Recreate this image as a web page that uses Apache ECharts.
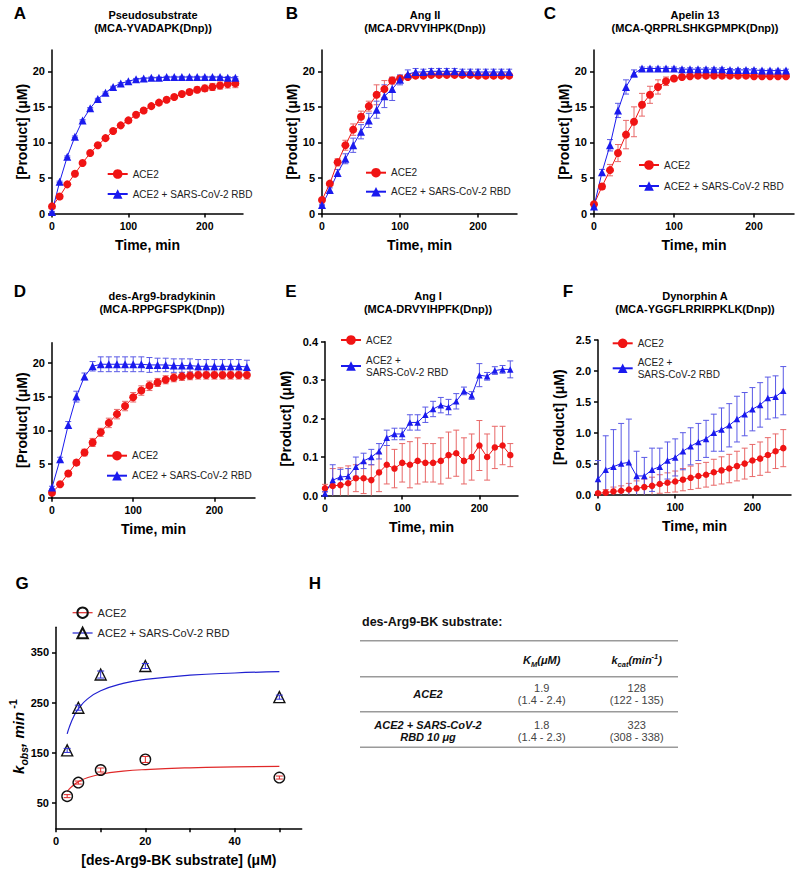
<!DOCTYPE html>
<html><head><meta charset="utf-8">
<script src="https://cdn.jsdelivr.net/npm/echarts@6/dist/echarts.min.js"></script>
<style>html,body{margin:0;padding:0;background:#fff}#c{width:800px;height:873px}</style>
</head><body><div id="c"></div>
<script>
// ---------------- DATA ----------------
const time = [0,10,20,30,40,50,60,70,80,90,100,110,120,130,140,150,160,170,180,190,200,210,220,230,240];
const timeTicks = [0,100,200];
const productTicks = [0,5,10,15,20];
const angITicks = [0,0.1,0.2,0.3,0.4];
const dynTicks = [0,0.5,1.0,1.5,2.0,2.5];

// A: Pseudosubstrate
const aRed    = [1.0,2.4,4.1,5.6,7.1,8.5,9.6,10.6,11.6,12.4,13.1,13.9,14.5,15.1,15.6,16.0,16.4,16.8,17.1,17.4,17.6,17.8,18.0,18.2,18.3];
const aRedErr = [0.1,0.1,0.1,0.1,0.1,0.1,0.1,0.1,0.1,0.1,0.15,0.15,0.2,0.2,0.2,0.25,0.25,0.3,0.35,0.4,0.45,0.5,0.5,0.55,0.6];
const aBlue   = [0.2,4.45,8.0,10.8,13.1,14.8,16.1,17.0,17.8,18.3,18.6,18.9,19.0,19.1,19.1,19.2,19.2,19.2,19.2,19.2,19.2,19.2,19.2,19.1,19.1];
const aBlueErr= [0.1,0.1,0.1,0.1,0.1,0.1,0.1,0.1,0.1,0.1,0.1,0.1,0.1,0.1,0.1,0.1,0.1,0.1,0.1,0.1,0.1,0.1,0.1,0.15,0.15];
// B: Ang II
const bRed    = [1.9,4.2,7.2,9.6,11.8,13.6,15.1,16.7,17.5,18.7,19.0,19.2,19.4,19.4,19.5,19.5,19.5,19.5,19.5,19.5,19.4,19.4,19.4,19.4,19.4];
const bRedErr = [0.1,0.2,0.5,0.7,0.8,0.8,0.7,1.4,1.2,0.5,0.4,0.3,0.3,0.2,0.2,0.2,0.2,0.2,0.2,0.2,0.2,0.2,0.2,0.2,0.2];
const bBlue   = [1.2,3.3,5.7,7.7,9.6,11.5,13.1,14.6,16.5,17.5,18.8,19.6,19.9,19.9,20.0,20.0,20.0,20.0,19.9,19.9,19.9,19.9,19.9,19.9,19.9];
const bBlueErr= [0.1,0.3,0.5,0.7,1.0,1.0,1.0,1.2,1.6,1.6,0.7,0.6,0.5,0.4,0.4,0.4,0.4,0.4,0.4,0.4,0.4,0.4,0.4,0.4,0.4];
// C: Apelin 13
const cRed    = [1.3,3.8,6.1,8.5,11.1,12.9,15.3,16.7,17.8,18.6,19.0,19.2,19.3,19.4,19.4,19.4,19.4,19.4,19.4,19.4,19.3,19.3,19.3,19.3,19.3];
const cRedErr = [0.1,0.4,0.8,1.2,2.0,2.1,1.6,1.2,1.0,0.6,0.3,0.3,0.2,0.2,0.2,0.2,0.2,0.2,0.2,0.2,0.2,0.2,0.2,0.2,0.2];
const cBlue   = [1.0,5.8,9.6,14.5,17.8,19.7,20.4,20.4,20.4,20.4,20.4,20.3,20.3,20.3,20.3,20.3,20.3,20.2,20.2,20.2,20.2,20.1,20.1,20.1,20.1];
const cBlueErr= [0.1,0.4,0.8,1.0,1.0,0.5,0.2,0.2,0.2,0.2,0.2,0.2,0.2,0.2,0.2,0.2,0.2,0.2,0.2,0.2,0.2,0.2,0.2,0.2,0.2];
// D: des-Arg9-bradykinin
const dRed    = [0.74,2.0,3.6,5.2,6.7,8.2,9.7,11.1,12.4,13.6,14.9,15.9,16.6,17.1,17.5,17.8,18.0,18.1,18.2,18.2,18.2,18.2,18.2,18.2,18.2];
const dRedErr = [0.1,0.2,0.3,0.4,0.5,0.6,0.6,0.7,0.7,0.7,0.7,0.7,0.7,0.6,0.6,0.6,0.6,0.6,0.6,0.6,0.6,0.6,0.6,0.6,0.6];
const dBlue   = [1.5,5.7,10.8,15.0,18.0,19.5,19.8,19.8,19.8,19.8,19.8,19.8,19.7,19.7,19.7,19.6,19.6,19.6,19.5,19.5,19.5,19.5,19.5,19.5,19.4];
const dBlueErr= [0.2,0.3,0.5,0.8,0.5,0.7,1.1,1.1,1.1,1.1,1.1,1.1,1.1,1.0,1.0,1.0,1.0,1.0,1.0,1.0,1.0,1.0,1.0,1.0,1.0];
// E: Ang I
const eRed    = [0.019,0.025,0.027,0.032,0.045,0.045,0.040,0.060,0.080,0.070,0.085,0.080,0.090,0.085,0.085,0.090,0.105,0.110,0.090,0.100,0.130,0.100,0.125,0.130,0.105];
const eRedErr = [0.01,0.045,0.045,0.045,0.035,0.04,0.04,0.05,0.05,0.05,0.05,0.06,0.06,0.05,0.05,0.06,0.06,0.06,0.06,0.06,0.065,0.06,0.055,0.05,0.03];
const eBlue   = [0.005,0.040,0.048,0.050,0.075,0.090,0.100,0.115,0.150,0.160,0.160,0.190,0.190,0.210,0.225,0.235,0.230,0.245,0.272,0.260,0.313,0.310,0.325,0.328,0.328];
const eBlueErr= [0.005,0.04,0.02,0.02,0.025,0.02,0.02,0.02,0.02,0.015,0.015,0.02,0.02,0.02,0.02,0.02,0.02,0.02,0.01,0.01,0.03,0.01,0.01,0.01,0.022];
// F: Dynorphin A
const fRed    = [0.02,0.03,0.05,0.06,0.08,0.10,0.12,0.14,0.17,0.19,0.21,0.24,0.27,0.30,0.32,0.36,0.39,0.42,0.46,0.50,0.55,0.58,0.64,0.70,0.75];
const fRedErr = [0.02,0.05,0.07,0.08,0.10,0.12,0.13,0.14,0.15,0.16,0.17,0.18,0.19,0.20,0.20,0.21,0.22,0.23,0.24,0.25,0.26,0.27,0.28,0.28,0.30];
const fBlue   = [0.25,0.40,0.45,0.50,0.52,0.30,0.30,0.40,0.45,0.55,0.60,0.70,0.78,0.85,0.90,1.00,1.05,1.12,1.22,1.30,1.38,1.45,1.56,1.58,1.68];
const fBlueErr= [0.30,0.55,0.60,0.65,0.70,0.40,0.30,0.35,0.30,0.30,0.30,0.30,0.30,0.30,0.30,0.30,0.35,0.35,0.37,0.35,0.35,0.36,0.34,0.34,0.39];
// G: kobs vs substrate
const gConc     = [2.5,5,10,20,50];
const gRed      = [64,91,116,137,101];
const gRedErr   = [3,3,4,6,3];
const gBlue     = [155,240,306,323,261];
const gBlueErr  = [4,5,7,5,4];
const gFitX     = [2.5,3,4,5,7,10,15,20,30,40,50];
const gFitRed   = [72.7,78.4,86.8,92.8,100.7,107.6,113.6,116.9,120.4,122.2,123.3];
const gFitBlue  = [187.8,201.9,222.8,237.5,257.0,273.7,288.4,296.3,304.7,309.1,311.8];
const gXTicks   = [0,10,20,30,40,50];
const gXLabels  = [0,20,40];
const gYTicks   = [50,150,250,350];
// H: table
const hRows  = ['ACE2', 'ACE2 + SARS-CoV-2\nRBD 10 μg'];
const hKm    = ['1.9', '1.8'];
const hKmCI  = ['(1.4 - 2.4)', '(1.4 - 2.3)'];
const hKcat  = ['128', '323'];
const hKcatCI= ['(122 - 135)', '(308 - 338)'];

const titles = [
  'Pseudosubstrate\n(MCA-YVADAPK(Dnp))',
  'Ang II\n(MCA-DRVYIHPK(Dnp))',
  'Apelin 13\n(MCA-QRPRLSHKGPMPK(Dnp))',
  'des-Arg9-bradykinin\n(MCA-RPPGFSPK(Dnp))',
  'Ang I\n(MCA-DRVYIHPFK(Dnp))',
  'Dynorphin A\n(MCA-YGGFLRRIRPKLK(Dnp))'
];
const NAME_R = 'ACE2';
const NAME_B = 'ACE2 + SARS-CoV-2 RBD';
const NAME_B2 = 'ACE2 +\nSARS-CoV-2 RBD';

// ---------------- STYLE / LAYOUT ----------------
const FONT = "'Liberation Sans', Arial, Helvetica, sans-serif";
const RED = '#f01414', BLUE = '#1a1aee';
const RED_ERR = '#e86868', BLUE_ERR = '#5a5ae6';

const panels = [
  {box:{left:52, top:50, width:191, height:163.5}, yMax:23, yTicks:productTicks, fmt:v=>String(v), red:aRed, redErr:aRedErr, blue:aBlue, blueErr:aBlueErr, sym:8, yGap:22, bName:NAME_B, leg:[106.7,168,8], title:[153,21.7], letter:['A',20,13]},
  {box:{left:322, top:50, width:195, height:163.5}, yMax:23, yTicks:productTicks, fmt:v=>String(v), red:bRed, redErr:bRedErr, blue:bBlue, blueErr:bBlueErr, sym:8, yGap:22, bName:NAME_B, leg:[365,166.7,7], title:[425,21.7], letter:['B',292,13]},
  {box:{left:594, top:50, width:200, height:163.5}, yMax:23, yTicks:productTicks, fmt:v=>String(v), red:cRed, redErr:cRedErr, blue:cBlue, blueErr:cBlueErr, sym:8, yGap:22, bName:NAME_B, leg:[638,159,9], title:[695,21.7], letter:['C',550,13]},
  {box:{left:52, top:342.7, width:203, height:155}, yMax:23, yTicks:productTicks, fmt:v=>String(v), red:dRed, redErr:dRedErr, blue:dBlue, blueErr:dBlueErr, sym:8, yGap:22, bName:NAME_B, leg:[106,449.7,8], title:[162,302.3], letter:['D',20,291]},
  {box:{left:325, top:341.7, width:193, height:153.8}, yMax:0.4, yTicks:angITicks, fmt:v=>v.toFixed(1), red:eRed, redErr:eRedErr, blue:eBlue, blueErr:eBlueErr, sym:6.5, yGap:32, bName:NAME_B2, leg:[340,334,8], title:[428,302.3], letter:['E',291,291]},
  {box:{left:598, top:340, width:193, height:154.5}, yMax:2.5, yTicks:dynTicks, fmt:v=>v.toFixed(1), red:fRed, redErr:fRedErr, blue:fBlue, blueErr:fBlueErr, sym:6.5, yGap:32, bName:NAME_B2, leg:[611.7,337.3,7], title:[695,302.3], letter:['F',568,291]}
];

const grids = [], xAxes = [], yAxes = [], series = [], legends = [], graphics = [];

function axisLineStyle(){ return {show:true, onZero:false, lineStyle:{color:'#000', width:1.5}}; }
function tickStyle(vals){ return {show:true, length:4, inside:false, lineStyle:{color:'#000', width:1.5}, customValues:vals}; }
function labelStyle(vals, fmt, size, margin){ return {customValues:vals, formatter:fmt, fontFamily:FONT, fontWeight:'bold', fontSize:size, color:'#000', margin:margin}; }
const nameStyle = {fontFamily:FONT, fontWeight:'bold', fontSize:14, color:'#000'};

function errSeries(gi, xs, ys, es, color, cap, yMin){
  return {
    type:'custom', xAxisIndex:gi, yAxisIndex:gi, z:2, silent:true, clip:false,
    data: xs.map((x,i)=>[x, ys[i], es[i]]),
    encode:{x:0, y:1},
    renderItem(params, api){
      const x = api.value(0), y = api.value(1), e = api.value(2);
      const lo = Math.max(y - e, yMin);
      const pT = api.coord([x, y + e]);
      const pB = api.coord([x, lo]);
      const st = {stroke:color, lineWidth:1};
      const ch = [
        {type:'line', shape:{x1:pT[0], y1:pT[1], x2:pB[0], y2:pB[1]}, style:st},
        {type:'line', shape:{x1:pT[0]-cap, y1:pT[1], x2:pT[0]+cap, y2:pT[1]}, style:st}
      ];
      if (y - e > yMin) ch.push({type:'line', shape:{x1:pB[0]-cap, y1:pB[1], x2:pB[0]+cap, y2:pB[1]}, style:st});
      return {type:'group', children:ch};
    }
  };
}

function lineSeries(gi, name, xs, ys, color, symbol, size){
  return {
    type:'line', name, xAxisIndex:gi, yAxisIndex:gi, z:3, clip:false,
    data: xs.map((x,i)=>[x, ys[i]]),
    symbol, symbolSize:size, showSymbol:true,
    itemStyle:{color}, lineStyle:{color, width:1}
  };
}

panels.forEach((p, gi) => {
  grids.push(Object.assign({containLabel:false}, p.box));
  xAxes.push({
    type:'value', gridIndex:gi, min:0, max:250,
    axisLine:axisLineStyle(), axisTick:tickStyle(timeTicks),
    axisLabel:labelStyle(timeTicks, v=>String(v), 10.5, 7),
    splitLine:{show:false},
    name:'Time, min', nameLocation:'middle', nameGap:24, nameTextStyle:nameStyle
  });
  yAxes.push({
    type:'value', gridIndex:gi, min:0, max:p.yMax,
    axisLine:axisLineStyle(), axisTick:tickStyle(p.yTicks),
    axisLabel:labelStyle(p.yTicks, p.fmt, 11, 7),
    splitLine:{show:false},
    name:'[Product] (μM)', nameLocation:'middle', nameGap:p.yGap, nameTextStyle:nameStyle
  });
  series.push(errSeries(gi, time, p.red, p.redErr, RED_ERR, 3, 0));
  series.push(errSeries(gi, time, p.blue, p.blueErr, BLUE_ERR, 3, 0));
  series.push(lineSeries(gi, NAME_R, time, p.red, RED, 'circle', p.sym));
  series.push(lineSeries(gi, p.bName, time, p.blue, BLUE, 'triangle', p.sym));
  legends.push({
    left:p.leg[0], top:p.leg[1], orient:'vertical', itemGap:p.leg[2], itemWidth:20, itemHeight:12,
    padding:0, selectedMode:false, data:[NAME_R, p.bName],
    textStyle:{fontFamily:FONT, fontSize:10, color:'#222', lineHeight:12}
  });
  graphics.push({type:'text', x:p.title[0], y:p.title[1], silent:true,
    style:{text:titles[gi], fill:'#000', fontFamily:FONT, fontWeight:'bold', fontSize:11, lineHeight:13,
      align:'center', verticalAlign:'middle', textAlign:'center', textVerticalAlign:'middle'}});
  graphics.push({type:'text', x:p.letter[1], y:p.letter[2], silent:true,
    style:{text:p.letter[0], fill:'#000', fontFamily:FONT, fontWeight:'bold', fontSize:17,
      align:'center', verticalAlign:'middle', textAlign:'center', textVerticalAlign:'middle'}});
});

// ---------- Panel G ----------
const gi = panels.length;
const G_R = 'ACE2 ', G_B = 'ACE2 + SARS-CoV-2 RBD ';
grids.push({left:56, top:627.3, width:245.7, height:201});
xAxes.push({
  type:'value', gridIndex:gi, min:0, max:55,
  axisLine:axisLineStyle(), axisTick:tickStyle(gXTicks),
  axisLabel:labelStyle(gXLabels, v=>String(v), 11, 7),
  splitLine:{show:false},
  name:'[des-Arg9-BK substrate] (μM)', nameLocation:'middle', nameGap:25, nameTextStyle:nameStyle
});
yAxes.push({
  type:'value', gridIndex:gi, min:0, max:400,
  axisLine:axisLineStyle(), axisTick:tickStyle(gYTicks),
  axisLabel:labelStyle(gYTicks, v=>String(v), 11, 7),
  splitLine:{show:false}
});
series.push({type:'line', xAxisIndex:gi, yAxisIndex:gi, z:2, smooth:true, showSymbol:false, symbol:'none', silent:true,
  data:gFitX.map((x,i)=>[x, gFitRed[i]]), lineStyle:{color:'#e02828', width:1.2}});
series.push({type:'line', xAxisIndex:gi, yAxisIndex:gi, z:2, smooth:true, showSymbol:false, symbol:'none', silent:true,
  data:gFitX.map((x,i)=>[x, gFitBlue[i]]), lineStyle:{color:'#2020d0', width:1.2}});
function gMarkers(name, ys, symbol, size){
  return {type:'line', name, xAxisIndex:gi, yAxisIndex:gi, z:3, clip:false,
    data:gConc.map((x,i)=>[x, ys[i]]), symbol, symbolSize:size, showSymbol:true,
    itemStyle:{color:'rgba(255,255,255,0)', borderColor:'#111', borderWidth:1.4},
    lineStyle:{width:0, opacity:0}};
}
series.push(gMarkers(G_R, gRed, 'circle', 10.5));
series.push(gMarkers(G_B, gBlue, 'triangle', 11));
const gErrR = errSeries(gi, gConc, gRed, gRedErr, '#e02828', 3.5, 0); gErrR.z = 4;
const gErrB = errSeries(gi, gConc, gBlue, gBlueErr, '#3030d8', 3.5, 0); gErrB.z = 4;
series.push(gErrR, gErrB);
legends.push({
  left:72, top:606.2, orient:'vertical', itemGap:7.3, itemWidth:20, itemHeight:13, padding:0, selectedMode:false,
  data:[{name:G_R, lineStyle:{color:'#e02828', width:1.2, opacity:1}}, {name:G_B, lineStyle:{color:'#2020d0', width:1.2, opacity:1}}],
  textStyle:{fontFamily:FONT, fontSize:11, color:'#222', lineHeight:13}
});
graphics.push({type:'text', x:22, y:583, silent:true,
  style:{text:'G', fill:'#000', fontFamily:FONT, fontWeight:'bold', fontSize:17, align:'center', verticalAlign:'middle', textAlign:'center', textVerticalAlign:'middle'}});
graphics.push({type:'text', x:18, y:736.5, rotation:Math.PI/2, silent:true,
  style:{text:'{k|k}{s|obs}{k|, min}{p| -1}', fill:'#000', align:'center', verticalAlign:'middle', textAlign:'center', textVerticalAlign:'middle',
    rich:{
      k:{fontFamily:FONT, fontSize:15, fontStyle:'italic', fontWeight:'bold', fill:'#000', lineHeight:22},
      s:{fontFamily:FONT, fontSize:10.5, fontStyle:'italic', fontWeight:'bold', fill:'#000', verticalAlign:'bottom'},
      p:{fontFamily:FONT, fontSize:11, fontWeight:'bold', fill:'#000', verticalAlign:'top'}
    }}});

// ---------- Panel H (table) ----------
graphics.push({type:'text', x:315, y:583, silent:true,
  style:{text:'H', fill:'#000', fontFamily:FONT, fontWeight:'bold', fontSize:17, align:'center', verticalAlign:'middle', textAlign:'center', textVerticalAlign:'middle'}});
graphics.push({type:'text', x:362, y:621.7, silent:true,
  style:{text:'des-Arg9-BK substrate:', fill:'#111', fontFamily:FONT, fontWeight:'bold', fontSize:12.5, align:'left', verticalAlign:'middle', textAlign:'left', textVerticalAlign:'middle'}});
[640.7, 676.7, 711.7, 747.3].forEach(y => {
  graphics.push({type:'line', silent:true, shape:{x1:360, y1:y, x2:678, y2:y}, style:{stroke:'#9a9a9a', lineWidth:1.5}});
});
const colRow = 428, colKm = 541.7, colKcat = 636.7;
const hRich = {
  i:{fontFamily:FONT, fontSize:11, fontStyle:'italic', fontWeight:'bold', fill:'#111', lineHeight:16},
  s:{fontFamily:FONT, fontSize:7.5, fontStyle:'italic', fontWeight:'bold', fill:'#111', verticalAlign:'bottom'},
  p:{fontFamily:FONT, fontSize:7.5, fontStyle:'italic', fontWeight:'bold', fill:'#111', verticalAlign:'top'}
};
graphics.push({type:'text', x:colKm, y:660, silent:true,
  style:{text:'{i|K}{s|M}{i|(μM)}', rich:hRich, align:'center', verticalAlign:'middle', textAlign:'center', textVerticalAlign:'middle'}});
graphics.push({type:'text', x:colKcat, y:660, silent:true,
  style:{text:'{i|k}{s|cat}{i|(min}{p|-1}{i|)}', rich:hRich, align:'center', verticalAlign:'middle', textAlign:'center', textVerticalAlign:'middle'}});
const rowY = [694, 730.8];
hRows.forEach((r, i) => {
  graphics.push({type:'text', x:colRow, y:rowY[i], silent:true,
    style:{text:r, fill:'#111', fontFamily:FONT, fontStyle:'italic', fontWeight:'bold', fontSize:11, lineHeight:12,
      align:'center', verticalAlign:'middle', textAlign:'center', textVerticalAlign:'middle'}});
  graphics.push({type:'text', x:colKm, y:rowY[i], silent:true,
    style:{text:hKm[i] + '\n' + hKmCI[i], fill:'#444', fontFamily:FONT, fontSize:11, lineHeight:12.5,
      align:'center', verticalAlign:'middle', textAlign:'center', textVerticalAlign:'middle'}});
  graphics.push({type:'text', x:colKcat, y:rowY[i], silent:true,
    style:{text:hKcat[i] + '\n' + hKcatCI[i], fill:'#444', fontFamily:FONT, fontSize:11, lineHeight:12.5,
      align:'center', verticalAlign:'middle', textAlign:'center', textVerticalAlign:'middle'}});
});

const chart = echarts.init(document.getElementById('c'), null, {renderer:'svg'});
chart.setOption({
  animation:false,
  backgroundColor:'#fff',
  textStyle:{fontFamily:FONT},
  grid:grids, xAxis:xAxes, yAxis:yAxes, series, legend:legends,
  graphic:{elements:graphics}
});
</script>
</body></html>
